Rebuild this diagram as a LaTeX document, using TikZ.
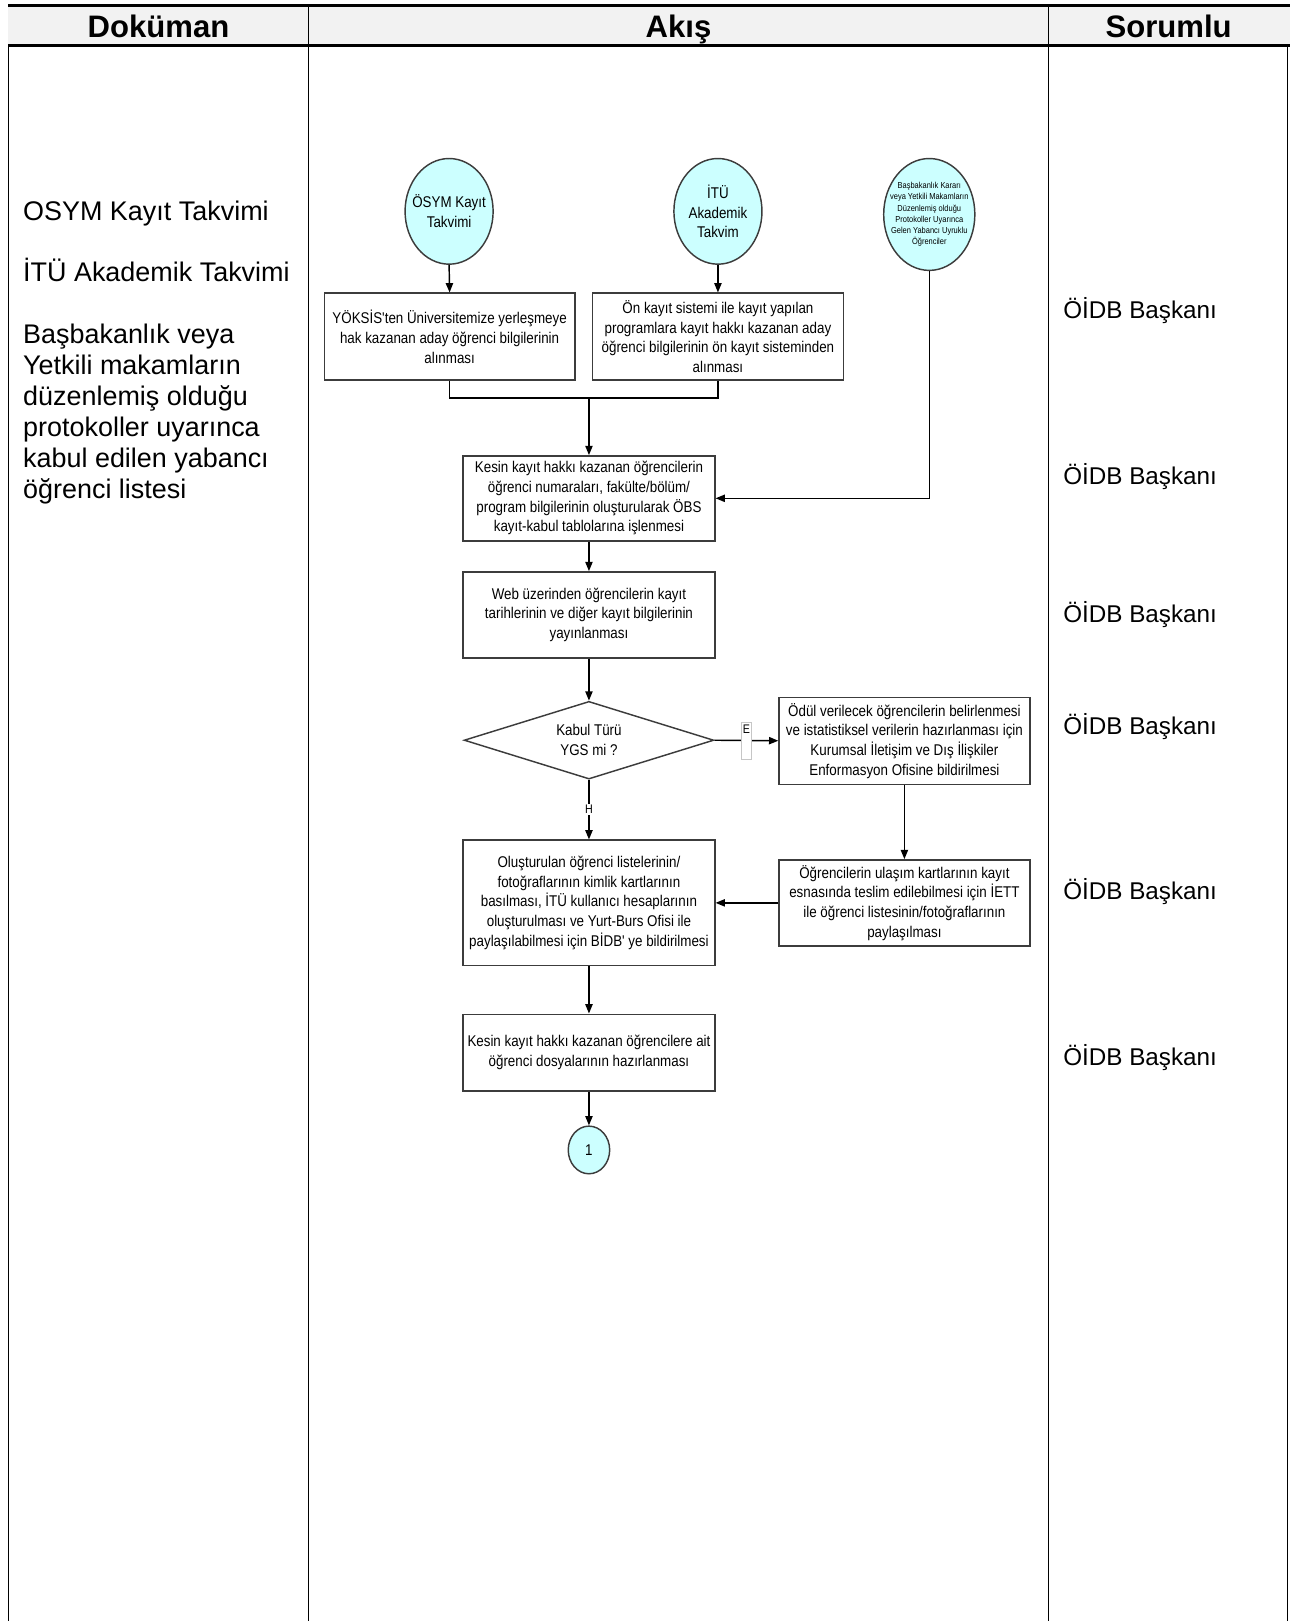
\documentclass[tikz,border=0pt]{standalone}
\usepackage{fontspec}
\setmainfont{Liberation Sans}
\newfontfamily\narrowfont[FakeStretch=0.86]{Liberation Sans}
\usetikzlibrary{shapes.geometric,arrows.meta}
\definecolor{flowfill}{RGB}{204,255,255}
\definecolor{hdrgray}{RGB}{242,242,242}
\definecolor{edge}{RGB}{60,60,60}
\begin{document}
\begin{tikzpicture}[x=0.5pt,y=-0.5pt,
  hdr/.style={font=\bfseries\fontsize{15}{18}\selectfont, inner sep=0pt, anchor=base},
  doc/.style={font=\fontsize{13}{15}\selectfont, inner sep=0pt, align=left},
  resp/.style={font=\fontsize{11.7}{14}\selectfont, inner sep=0pt, anchor=west},
  box/.style={draw=edge, line width=0.7pt, fill=white, align=center, inner sep=1pt,
    font=\narrowfont\fontsize{7.5}{9.5}\selectfont, minimum width=121pt},
  oval/.style={ellipse, draw=edge, line width=0.7pt, fill=flowfill, align=center, inner sep=0pt,
    font=\narrowfont\fontsize{7.5}{9.5}\selectfont},
  dia/.style={diamond, aspect=3.2, draw=edge, line width=0.7pt, fill=white, align=center, inner sep=0pt,
    font=\narrowfont\fontsize{7.5}{9.5}\selectfont, minimum width=120.5pt, minimum height=37.5pt},
  flow/.style={line width=0.7pt, draw=black},
  arr/.style={flow, -{Triangle[length=4.5pt,width=3.5pt]}},
  lbl/.style={font=\narrowfont\fontsize{6}{7}\selectfont, fill=white, inner sep=0.6pt}
]
\useasboundingbox (0,0) rectangle (1250,1564.7);
% table
\fill[hdrgray] (8,5) rectangle (1245,44);
\draw[line width=0.6pt] (8,44) -- (8,1565);
\draw[line width=0.6pt] (298,5) -- (298,1565);
\draw[line width=0.6pt] (1012,5) -- (1012,1565);
\draw[line width=0.6pt] (1243,44) -- (1243,1565);
\draw[line width=1.5pt] (8,5) -- (1245,5);
\draw[line width=1.5pt] (8,44) -- (1245,44);
\node[hdr] (h1) at (153,36) {Doküman};
\node[hdr] (h2) at (655,36) {Akış};
\node[hdr] (h3) at (1128,36) {Sorumlu};
% document column
\node[doc, anchor=base west] (d1) at (22,213) {OSYM Kayıt Takvimi};
\node[doc, anchor=base west] (d2) at (22,272) {İTÜ Akademik Takvimi};
\node[doc, anchor=north west] (d3) at (22,312) {Başbakanlık veya\\Yetkili makamların\\düzenlemiş olduğu\\protokoller uyarınca\\kabul edilen yabancı\\öğrenci listesi};
% responsible column
\node[resp] (r1) at (1026,300) {ÖİDB Başkanı};
\node[resp] (r2) at (1026,460) {ÖİDB Başkanı};
\node[resp] (r3) at (1026,593) {ÖİDB Başkanı};
\node[resp] (r4) at (1026,701) {ÖİDB Başkanı};
\node[resp] (r5) at (1026,861) {ÖİDB Başkanı};
\node[resp] (r6) at (1026,1021) {ÖİDB Başkanı};
% flow nodes
\node[oval, minimum width=42.5pt, minimum height=51pt, inner sep=-3.5pt] (e1) at (433.5,204) {ÖSYM Kayıt\\Takvimi};
\node[oval, minimum width=42.5pt, minimum height=51pt] (e2) at (693,204) {İTÜ\\Akademik\\Takvim};
\node[oval, minimum width=44pt, minimum height=54pt, inner sep=-9pt, font=\narrowfont\fontsize{4.2}{5.4}\selectfont] (e3) at (897,207) {Başbakanlık Kararı\\veya Yetkili Makamların\\Düzenlemiş olduğu\\Protokoller Uyarınca\\Gelen Yabancı Uyruklu\\Öğrenciler};
\node[box, minimum height=42pt] (b1) at (434,325) {YÖKSİS'ten Üniversitemize yerleşmeye\\hak kazanan aday öğrenci bilgilerinin\\alınması};
\node[box, minimum height=42pt] (b2) at (693,325) {Ön kayıt sistemi ile kayıt yapılan\\programlara kayıt hakkı kazanan aday\\öğrenci bilgilerinin ön kayıt sisteminden\\alınması};
\node[box, minimum width=121.5pt, minimum height=41pt] (b3) at (568.5,481) {Kesin kayıt hakkı kazanan öğrencilerin\\öğrenci numaraları, fakülte/bölüm/\\program bilgilerinin oluşturularak ÖBS\\kayıt-kabul tablolarına işlenmesi};
\node[box, minimum width=121.5pt, minimum height=41.5pt] (b4) at (568.5,593.5) {Web üzerinden öğrencilerin kayıt\\tarihlerinin ve diğer kayıt bilgilerinin\\yayınlanması};
\node[dia] (q1) at (568.5,714.5) {Kabul Türü\\YGS mi ?};
\node[box, minimum height=42pt] (b5) at (873,715) {Ödül verilecek öğrencilerin belirlenmesi\\ve istatistiksel verilerin hazırlanması için\\Kurumsal İletişim ve Dış İlişkiler\\Enformasyon Ofisine bildirilmesi};
\node[box, minimum width=121.5pt, minimum height=60.5pt] (b6) at (568.5,871.5) {Oluşturulan öğrenci listelerinin/\\fotoğraflarının kimlik kartlarının\\basılması, İTÜ kullanıcı hesaplarının\\oluşturulması ve Yurt-Burs Ofisi ile\\paylaşılabilmesi için BİDB' ye bildirilmesi};
\node[box, minimum height=41.5pt] (b7) at (873,871.5) {Öğrencilerin ulaşım kartlarının kayıt\\esnasında teslim edilebilmesi için İETT\\ile öğrenci listesinin/fotoğraflarının\\paylaşılması};
\node[box, minimum width=121.5pt, minimum height=37pt] (b8) at (568.5,1016) {Kesin kayıt hakkı kazanan öğrencilere ait\\öğrenci dosyalarının hazırlanması};
\node[oval, minimum width=20pt, minimum height=23pt] (c1) at (568.5,1110) {1};
% connectors
\coordinate (m) at (568.5,384);
\draw[arr] (e1.south) -- (b1.north);
\draw[arr] (e2.south) -- (b2.north);
\draw[flow] (b1.south) |- (m);
\draw[flow] (b2.south) |- (m);
\draw[arr] (m) -- (b3.north);
\draw[arr] (e3.south) |- (b3.east);
\draw[arr] (b3.south) -- (b4.north);
\draw[arr] (b4.south) -- (q1.north);
\draw[arr] (q1.east) -- (b5.west) node[pos=0.5, lbl, draw=gray!45, line width=0.3pt, text height=5pt, text depth=11.5pt] (le) {E};
\draw[arr] (q1.south) -- (b6.north) node[pos=0.5, lbl] (lh) {H};
\draw[arr] (b5.south) -- (b7.north);
\draw[arr] (b7.west) -- (b6.east);
\draw[arr] (b6.south) -- (b8.north);
\draw[arr] (b8.south) -- (c1.north);
\end{tikzpicture}
\end{document}
